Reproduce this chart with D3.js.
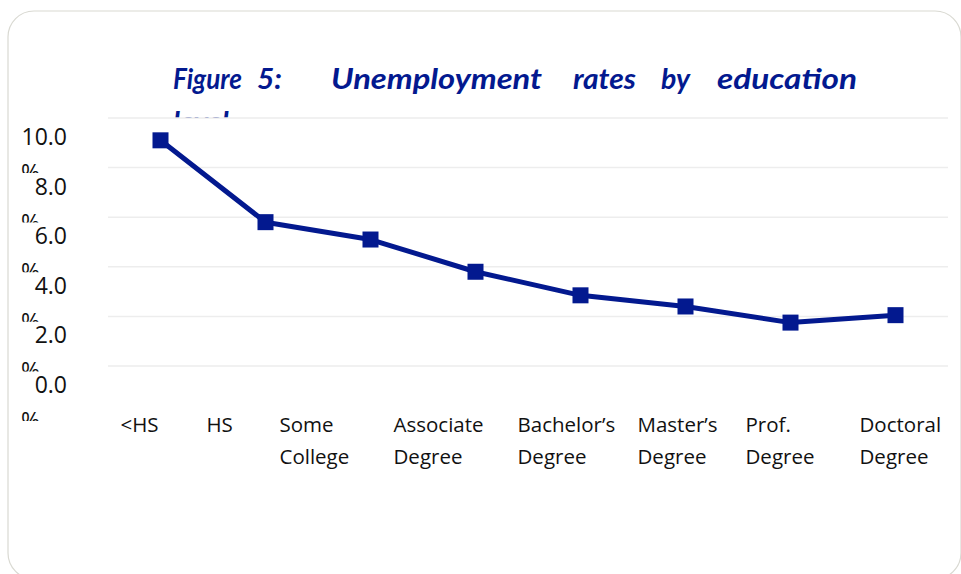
<!DOCTYPE html>
<html>
<head>
<meta charset="utf-8">
<script src="https://cdn.jsdelivr.net/npm/d3@7"></script>
<style>
  html, body { margin: 0; padding: 0; background: #ffffff; }
  svg { display: block; }
</style>
</head>
<body>
<svg id="chart" width="961" height="574"></svg>
<script>
// ---- data ----
const categories = [["<HS"], ["HS"], ["Some", "College"], ["Associate", "Degree"],
  ["Bachelor\u2019s", "Degree"], ["Master\u2019s", "Degree"], ["Prof.", "Degree"], ["Doctoral", "Degree"]];
const rates = [9.1, 5.8, 5.1, 3.8, 2.85, 2.4, 1.75, 2.05];
const yTicks = [0, 2, 4, 6, 8, 10];
const titleLine1 = ["Figure", "5:", "Unemployment", "rates", "by", "education"];
const titleLine2 = "level";

// ---- layout ----
const W = 961, H = 574;
const plot = { left: 108, right: 948, top: 118, bottom: 366 };
const navy = "#03198f";
const labelDx = [-40, -59, -91, -82, -63, -48, -45, -36];
const titleWordX = [173, 257, 331, 573, 661, 717];
const titleWordW = [69, 25, 211, 63, 29, 140];

const svg = d3.select("#chart");

// frame
svg.append("rect")
  .attr("x", 8).attr("y", 11).attr("width", 953).attr("height", 568)
  .attr("rx", 26).attr("ry", 26)
  .attr("fill", "#ffffff").attr("stroke", "#d9d9d2").attr("stroke-width", 1.2);

// title
const defs = svg.append("defs");
defs.append("clipPath").attr("id", "titleClip")
  .append("rect").attr("x", 0).attr("y", 0).attr("width", W).attr("height", plot.top);

const titleG = svg.append("g").attr("clip-path", "url(#titleClip)")
  .attr("font-family", "Lato, 'Open Sans', sans-serif")
  .attr("font-weight", "bold").attr("font-style", "italic")
  .attr("font-size", 29).attr("fill", navy);
titleG.selectAll("text.w").data(titleLine1).join("text")
  .attr("class", "w")
  .attr("x", (d, i) => titleWordX[i]).attr("y", 89)
  .attr("textLength", (d, i) => titleWordW[i])
  .attr("lengthAdjust", "spacingAndGlyphs")
  .text(d => d);
titleG.append("text").attr("x", 173).attr("y", 132).text(titleLine2);

// scales
const x = d3.scalePoint().domain(d3.range(categories.length))
  .range([plot.left, plot.right]).padding(0.5);
const y = d3.scaleLinear().domain([0, 10]).range([plot.bottom, plot.top]);

// gridlines
svg.append("g").selectAll("line").data(yTicks).join("line")
  .attr("x1", plot.left).attr("x2", plot.right)
  .attr("y1", d => y(d)).attr("y2", d => y(d))
  .attr("stroke", "#ededed").attr("stroke-width", 1.5);

// y tick labels ("10.0" + wrapped, partly hidden "%")
const yl = svg.append("g").attr("font-family", "'Open Sans', sans-serif")
  .attr("font-size", 23).attr("fill", "#111");
yTicks.forEach((t, i) => {
  defs.append("clipPath").attr("id", "pc" + i)
    .append("rect").attr("x", 0).attr("y", y(t) + 40).attr("width", 60).attr("height", 15);
  yl.append("text").attr("x", 67).attr("y", y(t) + 27)
    .attr("text-anchor", "end").text(d3.format(".1f")(t));
  yl.append("text").attr("x", 21).attr("y", y(t) + 63)
    .attr("clip-path", "url(#pc" + i + ")").text("%");
});

// x labels
const xl = svg.append("g").attr("font-family", "'Open Sans', sans-serif")
  .attr("font-size", 20.5).attr("fill", "#111");
categories.forEach((lines, i) => {
  lines.forEach((ln, j) => {
    xl.append("text").attr("x", x(i) + labelDx[i]).attr("y", 432 + j * 32).text(ln);
  });
});

// line
const line = d3.line().x((d, i) => x(i)).y(d => y(d));
svg.append("path").datum(rates)
  .attr("d", line).attr("fill", "none")
  .attr("stroke", navy).attr("stroke-width", 5).attr("stroke-linejoin", "round");

// markers
const ms = 16;
svg.append("g").selectAll("rect").data(rates).join("rect")
  .attr("x", (d, i) => x(i) - ms / 2).attr("y", d => y(d) - ms / 2)
  .attr("width", ms).attr("height", ms).attr("fill", navy);
</script>
</body>
</html>
